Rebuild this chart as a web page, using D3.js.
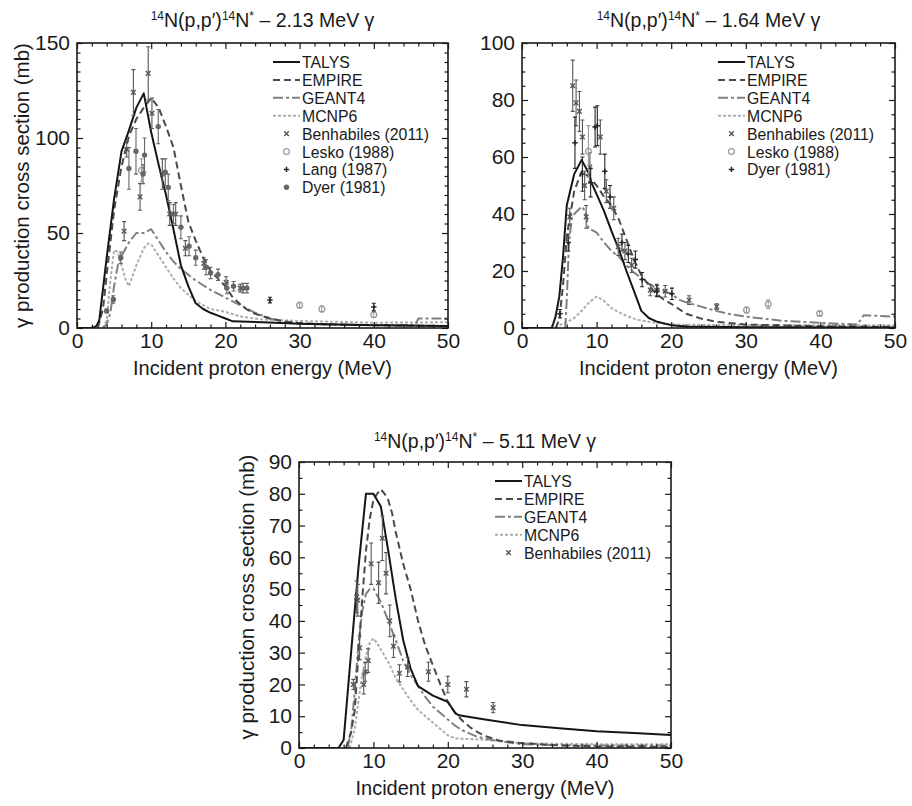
<!DOCTYPE html>
<html>
<head>
<meta charset="utf-8">
<script src="https://cdn.jsdelivr.net/npm/d3@7"></script>
<style>
  body { margin: 0; background: #fff; }
  svg text { font-family: "Liberation Sans", Arial, sans-serif; fill: #1a1a1a; }
</style>
</head>
<body>
<svg id="fig" width="912" height="806"></svg>
<script>
// ---------------- data: [energy MeV, cross section mb] ----------------
// 2.13 MeV gamma
const talys213 = [[0,0],[2,0],[2.6,1],[3,4],[4,37],[5,68],[6,93],[7,104],[8,116],[9,123.5],[10,103],[11,86],[12,70],[13,52],[14,33],[15,22],[16,13],[17,10],[18,8],[19,6.5],[20,5],[21,3.5],[25,3],[30,2.3],[40,1.5],[50,1]];
const empire213 = [[2.8,0],[3.5,10],[4,28],[5,62],[6,85],[7,101],[8,110],[9,116],[10,121],[11,116],[12,106],[13,95],[14,75],[15,56],[16,46],[17,37],[18,30],[19,26],[20,22],[21,16],[22,12.5],[23,9.5],[24,7.5],[26,5],[28,3.5],[30,2.5],[35,1.8],[40,1.5],[50,1]];
const geant213 = [[3.5,0],[4,2],[4.5,8],[5,22],[5.5,33],[6,38],[7,45],[8,50],[9,50],[10,52],[11,46],[12,40],[13,35],[14,31],[15,28],[16,25],[18,20],[20,16],[22,12],[24,8],[26,5],[28,3],[30,2.2],[35,1.8],[40,1.6],[45.6,1.6],[46,5],[50,5]];
const mcnp213 = [[3.5,0],[4,4],[4.5,25],[5,41],[5.5,40],[6,33],[6.5,26],[7,22],[8,33],[9,42],[9.6,44.5],[10,44],[11,38],[12,32],[13,26],[14,21],[15,17.5],[16,14],[17,12],[18,10],[20,8.5],[22,6],[25,4.5],[30,3.7],[40,2.8],[50,3]];
// [energy, value, error]
const benh213 = [[6.35,51,5],[6.7,94,4],[7.6,124,12],[8.5,69,7],[9.6,134,14],[10.1,113,8],[11.5,81,8],[12.5,60,6],[13.3,60,6],[14.6,42,4],[17.1,34,3],[20.1,24,3],[22.0,21,2]];
const lesko213 = [[8.7,83,6],[30,12,1.5],[33,10,1.5],[40,7,1.5]];
const lang213 = [[26,14.7,1.5],[40,11,2]];
const dyer213 = [[4,9,1],[4.9,15,2],[5.9,37,3],[7.0,84,11],[7.95,93,12],[8.9,81,5],[9.1,91,9],[10.95,106,9],[11.9,82,7],[12.3,74,7],[13.0,60,5],[14.0,53,6],[15.1,43,5],[16.0,37,4],[17.4,32,4],[18.0,29,3],[19.0,28,3],[20.2,21,3],[21.1,22,2.5],[22.4,21,2.5],[22.9,21,2.5]];

// 1.64 MeV gamma
const talys164 = [[0,0],[4,0],[4.5,4],[5,11],[5.5,25],[6,43],[7,54],[8,59],[9,54],[9.3,51],[10,47],[11,41],[12,34],[13,27.5],[14,20],[15,13],[16,6],[17,3.5],[18,2.3],[20,1],[22,0.5],[30,0.3],[50,0.2]];
const empire164 = [[4.5,0],[5,3],[5.5,15],[6,32],[7,48],[8,55],[9,53],[10,50],[11,46],[12,43],[13,38],[14,31],[15,24],[16,18.5],[17,15],[18,12],[19,10],[20,8.5],[22,5],[24,3.3],[26,2.2],[30,1.2],[40,0.6],[50,0.4]];
const geant164 = [[5.8,0],[6,10],[6.3,30],[6.7,39],[7,40],[8,42.6],[8.5,41],[8.9,35],[10,33.5],[11,30],[12,27],[13,25],[14,22],[15,19.5],[16,17.5],[17,15.5],[18,14],[19,13],[20,12],[21,10],[22,9],[24,7.5],[26,6],[28,4.8],[30,4],[35,2.5],[40,1.8],[45,1.2],[45.8,4.5],[50,4]];
const mcnp164 = [[4.5,0],[5,1],[6,2],[7,3.5],[8,6],[9,9],[10,11],[11,9.5],[12,7],[13,5.5],[14,4.3],[15,3.3],[16,2.6],[18,1.8],[20,1.2],[30,1],[50,1]];
const benh164 = [[6.4,39,3],[6.8,85,9],[7.25,79,8],[7.7,76,7],[8.1,67,6],[8.4,50,5],[8.6,39,4],[9.1,56.5,5],[10.5,67,6],[11.3,48,4],[12.3,42,4],[12.9,28.5,3],[13.8,27,3],[14.7,22,2.5],[17.2,13.3,2],[18.05,13.3,2],[19.2,12.9,2],[22.4,9.8,1.5],[26.1,7.5,1]];
const lesko164 = [[8.9,62,9],[30.1,6.3,1],[33,8.4,1.5],[39.9,5.1,0.8]];
const dyer164 = [[5.1,5,1.5],[6.2,30,3],[7.1,65,9],[8.1,54,6],[9.2,51,5],[9.8,70.5,7],[10.1,71,7],[11.1,55,6],[11.8,46,4],[13.4,30,3],[14.25,26,3],[15.2,24,3],[16.1,17,2.5],[18.1,13,2],[20.1,12,2]];

// 5.11 MeV gamma
const talys511 = [[0,0],[5.3,0],[6,2.5],[7,30],[8,57],[9,80],[10,80],[11,76],[12,62],[13,47],[14,34],[15,25],[16,19.5],[17,18],[18,16.5],[19,15.5],[20,14.5],[21,11],[21.5,10.3],[25,9],[30,7.2],[35,6.2],[40,5.3],[45,4.7],[50,4.1]];
const empire511 = [[6.3,0],[7,5],[7.5,12],[8,30],[8.5,47],[9,62],[9.5,72],[10,78],[10.5,80],[11,81.4],[11.5,80],[12,78],[12.5,74],[13,68],[14,58],[15,50],[16,40],[17,32],[18,26],[19,20],[20,14.5],[21,11],[22,8.5],[23,6.5],[24,5],[25,3.8],[27,2.3],[30,1.5],[35,0.8],[40,0.5],[50,0.4]];
const geant511 = [[6.5,0],[7,5],[7.5,18],[8,33],[8.5,43],[9,48.5],[9.5,50],[10,50.2],[10.5,48],[11,46],[12,40],[13,34],[14,27.5],[15,23],[16,19.5],[17,16],[18,13],[19,11],[20,9],[21,7],[22,5.5],[24,3.5],[26,2.5],[28,1.8],[30,1.2],[35,0.9],[40,0.8],[50,0.8]];
const mcnp511 = [[6.8,0],[7.5,6],[8,15],[8.5,23],[9,29],[9.5,33],[10,34.5],[10.5,33],[11,31],[12,27],[13,22],[14,18.5],[15,15],[16,12],[17,10],[18,8],[19,6],[20,4],[21,3],[25,2.6],[30,1.5],[40,1.2],[50,1.2]];
const benh511 = [[7.3,20,1.6],[7.75,47.5,5],[7.9,46.5,5],[8.15,31.5,3.7],[8.7,20,3],[8.9,24,3],[9.3,27.5,3.7],[9.7,58,6.5],[10.7,52,6.5],[11.2,66,7],[11.7,55,6.5],[12.2,40,5],[12.7,32,3.5],[13.5,23.5,2.7],[14.6,25.5,3],[17.4,24,3],[20.0,20,2.6],[22.5,18.5,2.4],[26.1,12.7,1.6]];

const xTicks = [0, 10, 20, 30, 40, 50];

// ---------------- styles ----------------
const curveStyle = {
  TALYS:  {color: '#151515', dash: null,       width: 2},
  EMPIRE: {color: '#4a4a4a', dash: '7,4',      width: 2},
  GEANT4: {color: '#808080', dash: '10,3,3,3', width: 2},
  MCNP6:  {color: '#adadad', dash: '3,2',      width: 2}
};
const markerStyle = {
  benh:     {label: 'Benhabiles (2011)', shape: 'x',      color: '#555'},
  lesko:    {label: 'Lesko (1988)',      shape: 'circle', color: '#999'},
  lang:     {label: 'Lang (1987)',       shape: 'plus',   color: '#262626'},
  dyerDot:  {label: 'Dyer (1981)',       shape: 'dot',    color: '#666'},
  dyerPlus: {label: 'Dyer (1981)',       shape: 'plus',   color: '#262626'}
};

const panels = [
  {left: 77, top: 43, width: 371, height: 285, yMax: 150, yMajor: 50, yMinor: 5, energy: '2.13',
   yTitle: true, yTitleX: -48, yTitleDy: 0, titleY: -16,
   curves: {TALYS: talys213, EMPIRE: empire213, GEANT4: geant213, MCNP6: mcnp213},
   points: [['benh', benh213], ['lesko', lesko213], ['lang', lang213], ['dyerDot', dyer213]]},
  {left: 522, top: 43, width: 373, height: 285, yMax: 100, yMajor: 20, yMinor: 5, energy: '1.64',
   yTitle: false, titleY: -16,
   curves: {TALYS: talys164, EMPIRE: empire164, GEANT4: geant164, MCNP6: mcnp164},
   points: [['benh', benh164], ['lesko', lesko164], ['dyerPlus', dyer164]]},
  {left: 299, top: 462, width: 372, height: 286, yMax: 90, yMajor: 10, yMinor: 5, energy: '5.11',
   yTitle: true, yTitleX: -45, yTitleDy: -8, titleY: -14,
   curves: {TALYS: talys511, EMPIRE: empire511, GEANT4: geant511, MCNP6: mcnp511},
   points: [['benh', benh511]]}
];

const svg = d3.select('#fig');

//------------------------------ marker helper ------------------------------
function drawMarker(sel, shape, color, cx, cy) {
  if (shape === 'x') {
    const s = 2.3;
    sel.append('path').attr('d', `M${cx-s},${cy-s}L${cx+s},${cy+s}M${cx-s},${cy+s}L${cx+s},${cy-s}`)
      .attr('stroke', color).attr('stroke-width', 1.4).attr('fill', 'none');
  } else if (shape === 'plus') {
    const s = 2.7;
    sel.append('path').attr('d', `M${cx-s},${cy}L${cx+s},${cy}M${cx},${cy-s}L${cx},${cy+s}`)
      .attr('stroke', color).attr('stroke-width', 1.5).attr('fill', 'none');
  } else if (shape === 'circle') {
    sel.append('circle').attr('cx', cx).attr('cy', cy).attr('r', 2.9)
      .attr('stroke', color).attr('stroke-width', 1.2).attr('fill', 'none');
  } else {
    sel.append('circle').attr('cx', cx).attr('cy', cy).attr('r', 2.7).attr('fill', color);
  }
}

//------------------------------ panels ------------------------------
panels.forEach((p, i) => {
  const g = svg.append('g').attr('transform', `translate(${p.left},${p.top})`);
  const x = d3.scaleLinear().domain([0, 50]).range([0, p.width]);
  const y = d3.scaleLinear().domain([0, p.yMax]).range([p.height, 0]);

  const clipId = 'clip' + i;
  g.append('clipPath').attr('id', clipId)
    .append('rect').attr('width', p.width).attr('height', p.height);

  // curves
  const line = d3.line().x(d => x(d[0])).y(d => y(d[1]));
  const plot = g.append('g').attr('clip-path', `url(#${clipId})`);
  ['MCNP6', 'GEANT4', 'EMPIRE', 'TALYS'].forEach(k => {
    const st = curveStyle[k];
    plot.append('path').datum(p.curves[k])
      .attr('d', line)
      .attr('fill', 'none')
      .attr('stroke', st.color)
      .attr('stroke-width', st.width)
      .attr('stroke-dasharray', st.dash)
      .attr('stroke-linejoin', 'round');
  });

  // experimental points with error bars
  p.points.forEach(([key, data]) => {
    const st = markerStyle[key];
    const pg = g.append('g');
    data.forEach(d => {
      const cx = x(d[0]), y0 = y(d[1] - d[2]), y1 = y(d[1] + d[2]);
      pg.append('path')
        .attr('d', `M${cx},${y0}L${cx},${y1}M${cx-2},${y0}L${cx+2},${y0}M${cx-2},${y1}L${cx+2},${y1}`)
        .attr('stroke', st.color).attr('stroke-width', 1.1).attr('fill', 'none');
      drawMarker(pg, st.shape, st.color, cx, y(d[1]));
    });
  });

  // axes: inward ticks on all four sides
  const xMinor = d3.range(0, 51, 2).filter(v => v % 10 !== 0);
  const yMajorVals = d3.range(0, p.yMax + 0.01, p.yMajor);
  const yMinorVals = d3.range(0, p.yMax + 0.01, p.yMinor).filter(v => Math.abs(v % p.yMajor) > 1e-6);

  const axes = [
    [d3.axisBottom(x).tickValues(xTicks).tickSizeInner(-6).tickSizeOuter(0).tickPadding(5), `translate(0,${p.height})`, true],
    [d3.axisBottom(x).tickValues(xMinor).tickSizeInner(-3.5).tickSizeOuter(0).tickFormat(''), `translate(0,${p.height})`, false],
    [d3.axisTop(x).tickValues(xTicks).tickSizeInner(-6).tickSizeOuter(0).tickFormat(''), null, false],
    [d3.axisTop(x).tickValues(xMinor).tickSizeInner(-3.5).tickSizeOuter(0).tickFormat(''), null, false],
    [d3.axisLeft(y).tickValues(yMajorVals).tickSizeInner(-6).tickSizeOuter(0).tickPadding(7), null, true],
    [d3.axisLeft(y).tickValues(yMinorVals).tickSizeInner(-3.5).tickSizeOuter(0).tickFormat(''), null, false],
    [d3.axisRight(y).tickValues(yMajorVals).tickSizeInner(-6).tickSizeOuter(0).tickFormat(''), `translate(${p.width},0)`, false],
    [d3.axisRight(y).tickValues(yMinorVals).tickSizeInner(-3.5).tickSizeOuter(0).tickFormat(''), `translate(${p.width},0)`, false]
  ];
  axes.forEach(([ax, tr, labels]) => {
    const a = g.append('g').attr('transform', tr).call(ax);
    a.select('.domain').remove();
    a.selectAll('line').attr('stroke', '#1a1a1a').attr('stroke-width', 1.2);
    if (labels) a.selectAll('text').attr('font-size', 21).attr('font-family', null).style('fill', '#1a1a1a');
  });

  g.append('rect').attr('width', p.width).attr('height', p.height)
    .attr('fill', 'none').attr('stroke', '#1a1a1a').attr('stroke-width', 1.6);

  // titles
  const t = g.append('text').attr('x', p.width / 2).attr('y', p.titleY)
    .attr('text-anchor', 'middle').attr('font-size', 19.5);
  t.append('tspan').attr('font-size', 12).attr('dy', -7).text('14');
  t.append('tspan').attr('dy', 7).text('N(p,p′)');
  t.append('tspan').attr('font-size', 12).attr('dy', -7).text('14');
  t.append('tspan').attr('dy', 7).text('N');
  t.append('tspan').attr('font-size', 12).attr('dy', -7).text('*');
  t.append('tspan').attr('dy', 7).text(` – ${p.energy} MeV γ`);

  g.append('text').attr('x', p.width / 2).attr('y', p.height + 47)
    .attr('text-anchor', 'middle').attr('font-size', 20)
    .text('Incident proton energy (MeV)');

  if (p.yTitle) {
    g.append('text')
      .attr('transform', `translate(${p.yTitleX},${p.height / 2 + p.yTitleDy}) rotate(-90)`)
      .attr('text-anchor', 'middle').attr('font-size', 20.5)
      .text('γ production cross section (mb)');
  }

  // legend
  const lg = g.append('g').attr('transform', `translate(196,19)`);
  const rowH = 17.9;
  let row = 0;
  ['TALYS', 'EMPIRE', 'GEANT4', 'MCNP6'].forEach(k => {
    const st = curveStyle[k];
    const ly = row * rowH;
    lg.append('line').attr('x1', 0).attr('x2', 27).attr('y1', ly).attr('y2', ly)
      .attr('stroke', st.color).attr('stroke-width', st.width).attr('stroke-dasharray', st.dash);
    lg.append('text').attr('x', 29).attr('y', ly + 6).attr('font-size', 15.8).text(k);
    row++;
  });
  p.points.forEach(([key]) => {
    const st = markerStyle[key];
    const ly = row * rowH;
    drawMarker(lg, st.shape, st.color, 13.5, ly);
    lg.append('text').attr('x', 29).attr('y', ly + 6).attr('font-size', 15.8).text(st.label);
    row++;
  });
});
</script>
</body>
</html>
